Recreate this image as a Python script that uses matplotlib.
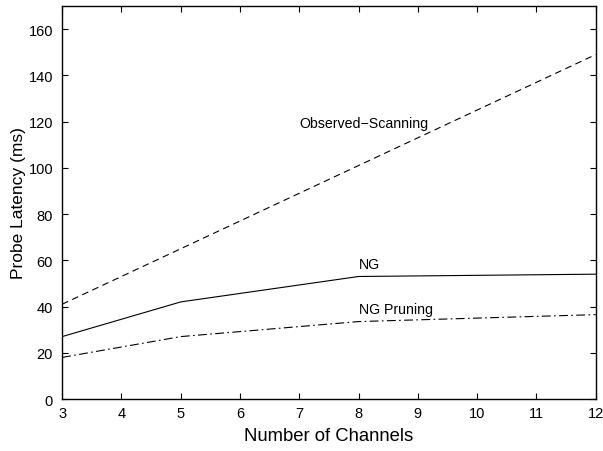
import matplotlib
matplotlib.use("Agg")
import matplotlib.pyplot as plt

plt.rcParams['font.family'] = ['Liberation Sans', 'DejaVu Sans']

# probe latency vs. number of channels
channels = [3, 5, 8, 12]
observed_scanning = [41, 65, 101, 149]
ng = [27, 42, 53, 54]
ng_pruning = [18, 27, 33.5, 36.5]

fig = plt.figure(figsize=(6.03, 4.52), dpi=100)
ax = fig.add_axes([0.1030, 0.115, 0.885, 0.8695])

ax.plot(channels, observed_scanning, color='black', lw=0.8, linestyle=(0, (6, 4)))
ax.plot(channels, ng, color='black', lw=0.8, linestyle='-')
ax.plot(channels, ng_pruning, color='black', lw=0.8, linestyle=(0, (8, 3, 1.5, 3)))

ax.text(7, 119.5, "Observed\u2212Scanning", fontsize=10.2, va='center', ha='left')
ax.text(8, 58.5, "NG", fontsize=10.2, va='center', ha='left')
ax.text(8, 39, "NG Pruning", fontsize=10.2, va='center', ha='left')

ax.set_xlim(3, 12)
ax.set_ylim(0, 170)
ax.set_xticks(range(3, 13))
ax.set_yticks(range(0, 161, 20))
ax.tick_params(direction='in', top=True, right=True, labelsize=10.5, length=4, width=0.8)
ax.tick_params(axis='y', pad=6.5)
ax.tick_params(axis='x', pad=5)
for s in ax.spines.values():
    s.set_linewidth(1.0)

ax.set_xlabel("Number of Channels", fontsize=13.3, labelpad=5)
ax.set_ylabel("Probe Latency (ms)", fontsize=12.5, labelpad=1.5)

fig.savefig("out.png", dpi=100)
